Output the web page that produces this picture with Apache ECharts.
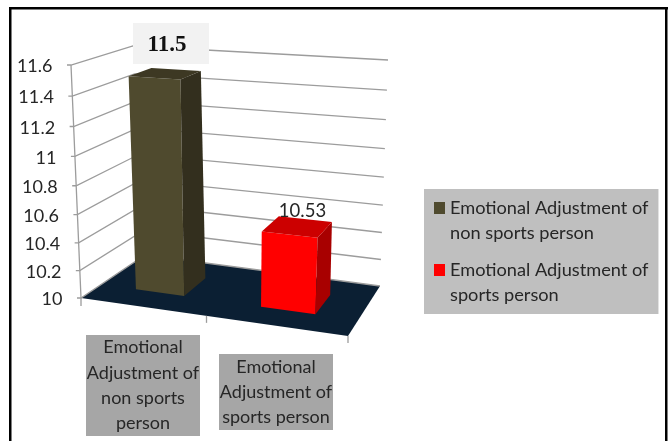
<!DOCTYPE html>
<html>
<head>
<meta charset="utf-8">
<style>
  html, body { margin: 0; padding: 0; background: #fff; }
  #chart { width: 672px; height: 441px; }
</style>
<script src="https://cdn.jsdelivr.net/npm/echarts@6/dist/echarts.min.js"></script>
</head>
<body>
<div id="chart"></div>
<script>
// chart values
const categories = ['Emotional Adjustment of non sports person', 'Emotional Adjustment of sports person'];
const values = [11.5, 10.53];
const yTicks = [10, 10.2, 10.4, 10.6, 10.8, 11, 11.2, 11.4, 11.6];
const xLabelLines = [
  ['Emotional', 'Adjustment of', 'non sports', 'person'],
  ['Emotional', 'Adjustment of', 'sports person']
];
const legendLines = [
  ['Emotional Adjustment of', 'non sports person'],
  ['Emotional Adjustment of', 'sports person']
];

const FONT = 'Lato';
const TEXT = '#262626';
const LINE = '#9c9c9c';
const barColors = [
  { front: '#4f4a2e', side: '#332f1e', top: '#3d3823' },
  { front: '#ff0000', side: '#a80000', top: '#cc0000' }
];

// the flat grid the axes live on, it gets warped into the 3d box below
const PLOT = { left: 100, top: 65, width: 260, height: 234 };
const BOX = {
  fbl: [81, 298], fbr: [348, 336], bbl: [145, 255], bbr: [380, 286],
  ftl: [71, 65], ftr: [359, 81], btl: [133, 46], btr: [388, 60]
};
const WARP_U = -0.113;
const WARP_V = -0.07;
const BAR_W = [0.315, 0.71];
const BAR_FILL = 0.4;

const mix = (a, b, t) => [a[0] + (b[0] - a[0]) * t, a[1] + (b[1] - a[1]) * t];
const warp = (t, k) => t * (1 + k) / (1 + k * t);

// u,v are 0..1 on the flat grid, w is depth into the box
function project(u, v, w) {
  const pu = warp(u, WARP_U), pv = warp(v, WARP_V);
  const bottom = mix(mix(BOX.fbl, BOX.fbr, pu), mix(BOX.bbl, BOX.bbr, pu), w);
  const top = mix(mix(BOX.ftl, BOX.ftr, pu), mix(BOX.btl, BOX.btr, pu), w);
  return mix(bottom, top, pv);
}
const toU = (x) => (x - PLOT.left) / PLOT.width;
const toV = (y) => (PLOT.top + PLOT.height - y) / PLOT.height;
const poly = (points, fill) => ({ type: 'polygon', shape: { points }, style: { fill } });
const stroke = (points) => ({
  type: 'polyline', shape: { points }, style: { fill: null, stroke: LINE, lineWidth: 1.3 }
});

function renderWall(params, api) {
  const tick = api.value(0);
  const v = toV(api.coord([0, tick])[1]);
  const front = project(0, v, 0);
  return {
    type: 'group',
    children: [
      stroke([[front[0] - 4, front[1]], front, project(0, v, 1), project(1, v, 1)]),
      {
        type: 'text',
        style: {
          text: String(tick), x: front[0] - 18.5, y: front[1] + 1.5,
          align: 'right', verticalAlign: 'middle',
          fontFamily: FONT, fontSize: 18, fill: TEXT
        }
      }
    ]
  };
}

function renderFloor() {
  const mid = project(0.5, 0, 0);
  const end = project(1, 0, 0);
  const start = project(0, 0, 0);
  return {
    type: 'group',
    children: [
      poly([project(0, 0, 0), project(1, 0, 0), project(1, 0, 1), project(0, 0, 1)], '#0b1f33'),
      stroke([project(0, 1, 0), start, [start[0], start[1] + 8]]),
      stroke([mid, [mid[0], mid[1] + 7]]),
      stroke([end, [end[0], end[1] + 7]])
    ]
  };
}

function renderBar(params, api) {
  const c = barColors[params.seriesIndex - 2];
  const point = api.coord([api.value(0), api.value(1)]);
  const half = api.size([1, 0])[0] * BAR_FILL / 2;
  const u0 = toU(point[0] - half), u1 = toU(point[0] + half);
  const v = toV(point[1]);
  const [w0, w1] = BAR_W;
  return {
    type: 'group',
    children: [
      poly([project(u0, v, w0), project(u1, v, w0), project(u1, 0, w0), project(u0, 0, w0)], c.front),
      poly([project(u1, v, w0), project(u1, v, w1), project(u1, 0, w1), project(u1, 0, w0)], c.side),
      poly([project(u0, v, w0), project(u1, v, w0), project(u1, v, w1), project(u0, v, w1)], c.top)
    ]
  };
}

function renderCategoryBox(params, api) {
  const i = api.value(0);
  const b = [{ x: 86, y: 335, w: 114, h: 101 }, { x: 219, y: 354, w: 114, h: 76 }][i];
  return {
    type: 'group',
    children: [
      { type: 'rect', shape: { x: b.x, y: b.y, width: b.w, height: b.h }, style: { fill: '#a6a6a6' } },
      {
        type: 'text',
        style: {
          text: xLabelLines[i].join('\n'), x: b.x + b.w / 2, y: b.y + b.h / 2,
          align: 'center', verticalAlign: 'middle',
          fontFamily: FONT, fontSize: 18, lineHeight: 25.3, fill: TEXT
        }
      }
    ]
  };
}

const chart = echarts.init(document.getElementById('chart'));
const option = {
  animation: false,
  backgroundColor: '#fff',
  grid: { left: PLOT.left, top: PLOT.top, width: PLOT.width, height: PLOT.height },
  xAxis: { type: 'category', data: categories, show: false },
  yAxis: { type: 'value', min: 10, max: 11.6, interval: 0.2, show: false },
  legend: {
    data: categories,
    orient: 'vertical',
    left: 424,
    top: 189,
    padding: [6.5, 10, 6.5, 10],
    itemGap: 12,
    itemWidth: 11,
    itemHeight: 50,
    // square sits level with the first text line, not in the middle of the block
    icon: 'path://M0 0L0 0M0 6.5H11V18.5H0ZM0 50L0 50',
    backgroundColor: '#bfbfbf',
    selectedMode: false,
    formatter: (name) => legendLines[categories.indexOf(name)].join('\n'),
    textStyle: { fontFamily: FONT, fontSize: 18.2, lineHeight: 25, color: TEXT }
  },
  graphic: [
    { type: 'rect', shape: { x: 9, y: 7, width: 659, height: 2.5 }, style: { fill: '#000' } },
    { type: 'rect', shape: { x: 9, y: 7, width: 2.5, height: 434 }, style: { fill: '#000' } },
    { type: 'rect', shape: { x: 665, y: 7, width: 2.5, height: 434 }, style: { fill: '#000' } }
  ],
  series: [
    {
      type: 'custom', name: 'floor', z: 1, silent: true,
      data: [[0, 10]], encode: { x: 0, y: 1 }, renderItem: renderFloor
    },
    {
      type: 'custom', name: 'wall', z: 1, silent: true,
      data: yTicks.map((t) => [t]), encode: { y: 0 }, renderItem: renderWall
    },
    ...categories.map((name, i) => ({
      type: 'custom', name, z: 2,
      itemStyle: { color: barColors[i].front },
      data: [[i, values[i]]],
      encode: { x: 0, y: 1 },
      renderItem: renderBar
    })),
    {
      type: 'custom', name: 'category boxes', z: 3, silent: true,
      data: categories.map((c, i) => [i, 10]), encode: { x: 0, y: 1 }, renderItem: renderCategoryBox
    },
    {
      type: 'custom', name: 'value labels', z: 4, silent: true,
      data: values.map((v, i) => [i, v]),
      encode: { x: 0, y: 1 },
      renderItem: (params, api) => {
        const i = api.value(0);
        const text = String(api.value(1));
        if (i === 0) {
          return {
            type: 'group',
            children: [
              { type: 'rect', shape: { x: 133, y: 23, width: 76, height: 41 }, style: { fill: '#f2f2f2' } },
              {
                type: 'text',
                style: {
                  text, x: 167, y: 45, align: 'center', verticalAlign: 'middle',
                  fontFamily: 'Liberation Serif', fontWeight: 'bold', fontSize: 23, fill: '#111'
                }
              }
            ]
          };
        }
        return {
          type: 'text',
          style: {
            text, x: 302.5, y: 211, align: 'center', verticalAlign: 'middle',
            fontFamily: FONT, fontSize: 18.5, fill: TEXT
          }
        };
      }
    }
  ]
};
chart.setOption(option);
</script>
</body>
</html>
